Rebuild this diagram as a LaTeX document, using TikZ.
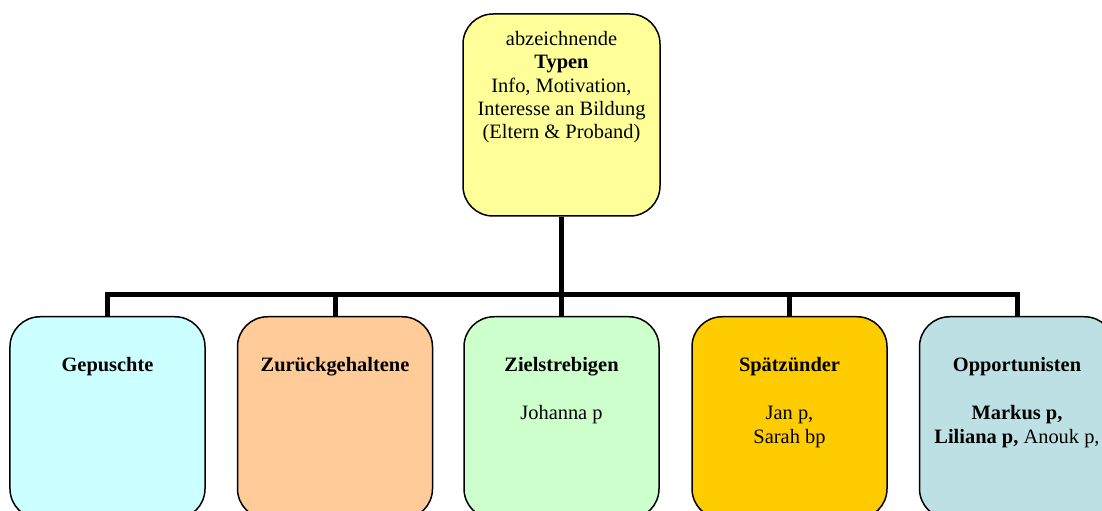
\documentclass[tikz,border=0pt]{standalone}
\usepackage{fontspec}
\setmainfont{Liberation Serif}
\usetikzlibrary{calc}
\definecolor{topyellow}{HTML}{FFFF99}
\definecolor{cyanbox}{HTML}{CCFFFF}
\definecolor{peachbox}{HTML}{FFCC99}
\definecolor{greenbox}{HTML}{CCFFCC}
\definecolor{goldbox}{HTML}{FFCC00}
\definecolor{bluebox}{HTML}{BCE0E4}
\tikzset{
  typebox/.style={draw=black, line width=1.5bp, rounded corners=30bp,
    minimum width=195bp, minimum height=202bp, inner sep=0pt},
  conn/.style={line width=5bp, draw=black, line join=miter},
  boxtext/.style={align=center, inner sep=0pt, anchor=north,
    font=\fontsize{20.5}{23.5}\selectfont}
}
\begin{document}
\begin{tikzpicture}[x=1bp, y=-1bp]
  \useasboundingbox (0,0) rectangle (1102,511);
  \clip (0,0) rectangle (1102,511);

  % level of the horizontal bar
  \coordinate (bus) at (561.5,295);

  % boxes
  \node[typebox, fill=topyellow, minimum width=197bp] (top) at (561.5,115) {};
  \node[typebox, fill=cyanbox,  anchor=north] (b1) at (107.5,316) {};
  \node[typebox, fill=peachbox, anchor=north] (b2) at (335,316) {};
  \node[typebox, fill=greenbox, anchor=north] (b3) at (561.5,316) {};
  \node[typebox, fill=goldbox,  anchor=north] (b4) at (789.5,316) {};
  \node[typebox, fill=bluebox,  anchor=north] (b5) at (1017,316) {};

  % tree connectors
  \draw[conn] (top.south) -- (top.south |- bus);
  \draw[conn] (b1.north) -- (b1.north |- bus) -- (b5.north |- bus) -- (b5.north);
  \draw[conn] (b2.north) -- (b2.north |- bus);
  \draw[conn] (b3.north) -- (b3.north |- bus);
  \draw[conn] (b4.north) -- (b4.north |- bus);

  % texts
  \node[boxtext] (ttop) at ($(top.north)+(0,17.7)$)
    {abzeichnende\\\textbf{Typen}\\Info, Motivation,\\Interesse an Bildung\\(Eltern \& Proband)};
  \node[boxtext] (t1) at ($(b1.north)+(0,41)$) {\textbf{Gepuschte}};
  \node[boxtext] (t2) at ($(b2.north)+(0,41)$) {\textbf{Zurückgehaltene}};
  \node[boxtext] (t3) at ($(b3.north)+(0,41)$) {\textbf{Zielstrebigen}\\[25bp]Johanna p};
  \node[boxtext] (t4) at ($(b4.north)+(0,41)$) {\textbf{Spätzünder}\\[25bp]Jan p,\\Sarah bp};
  \node[boxtext] (t5) at ($(b5.north)+(0,41)$)
    {\textbf{Opportunisten}\\[25bp]\textbf{Markus p,}\\\textbf{Liliana p,} Anouk p,};
\end{tikzpicture}
\end{document}
